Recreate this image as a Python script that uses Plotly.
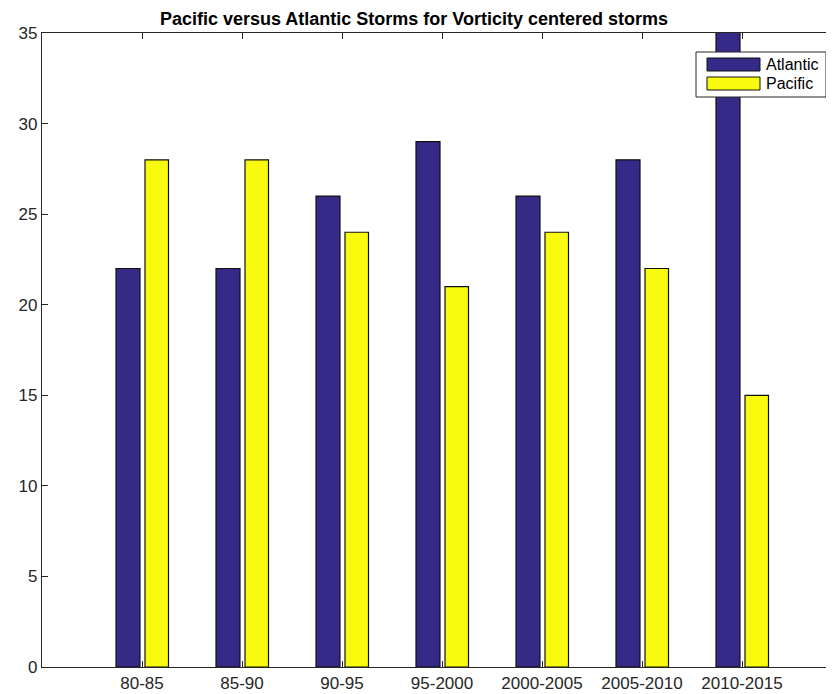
import plotly.graph_objects as go

periods = ['80-85', '85-90', '90-95', '95-2000', '2000-2005', '2005-2010', '2010-2015']
atlantic = [22, 22, 26, 29, 26, 28, 37]
pacific = [28, 28, 24, 21, 24, 22, 15]
y_ticks = [0, 5, 10, 15, 20, 25, 30, 35]

navy = '#352a87'
yellow = '#f9fb0e'
axis_col = '#262626'
font_name = 'Liberation Sans, Arial, sans-serif'

# the page body adds an 8px margin, so the figure is shrunk by that much
W, H = 826, 686
L, T, B = 34, 25, 27
pw, ph = W - L, H - T - B

# numeric positions so the axis can run past the last group like the matlab figure
xpos = list(range(1, len(periods) + 1))

fig = go.Figure()
fig.add_bar(x=xpos, y=atlantic, name='Atlantic', width=0.24, offset=-0.26,
            marker=dict(color=navy, line=dict(color='#111111', width=1.2)))
fig.add_bar(x=xpos, y=pacific, name='Pacific', width=0.235, offset=0.03,
            marker=dict(color=yellow, line=dict(color='#111111', width=1.2)))

fig.update_layout(
    width=W, height=H,
    margin=dict(l=L, r=0, t=T, b=B),
    paper_bgcolor='white', plot_bgcolor='white',
    showlegend=False,
    font=dict(family=font_name, size=17, color=axis_col),
    title=dict(text='<b>Pacific versus Atlantic Storms for Vorticity centered storms</b>',
               x=406 / W, xref='container', xanchor='center',
               y=1 - 17 / H, yref='container', yanchor='bottom',
               font=dict(family=font_name, size=18, color='black')),
)

fig.update_xaxes(range=[0, 7.92], tickvals=xpos, ticktext=periods,
                 showline=True, linecolor=axis_col, linewidth=1.2, mirror='ticks',
                 ticks='inside', ticklen=6, tickcolor=axis_col, tickwidth=1,
                 showgrid=False, zeroline=False, tickfont=dict(size=17, color=axis_col))
fig.update_yaxes(range=[0, 35], tickvals=y_ticks,
                 showline=True, linecolor=axis_col, linewidth=1.2, mirror=False,
                 ticks='inside', ticklen=6, tickcolor=axis_col, tickwidth=1,
                 showgrid=False, zeroline=False, tickfont=dict(size=17, color=axis_col))

# matlab style legend box, drawn by hand so the swatches get the long shape
# (coordinates measured in screen pixels: plot area runs 42..834 x, 33..667 y)
def px_x(v):
    return (v - 42) / pw


def px_y(v):
    return 1 - (v - 33) / ph


fig.add_shape(type='rect', xref='paper', yref='paper',
              x0=px_x(696), x1=px_x(826), y0=px_y(97), y1=px_y(52),
              line=dict(color=axis_col, width=1), fillcolor='white', layer='above')
for i, (name, col) in enumerate([('Atlantic', navy), ('Pacific', yellow)]):
    top = 58 + i * 19
    fig.add_shape(type='rect', xref='paper', yref='paper',
                  x0=px_x(707), x1=px_x(760), y0=px_y(top + 13), y1=px_y(top),
                  line=dict(color='#111111', width=1), fillcolor=col, layer='above')
    fig.add_annotation(text=name, xref='paper', yref='paper',
                       x=px_x(764), y=px_y(top + 6.5),
                       xanchor='left', yanchor='middle', showarrow=False,
                       font=dict(family=font_name, size=16, color='black'))

fig.write_html('out.html')
